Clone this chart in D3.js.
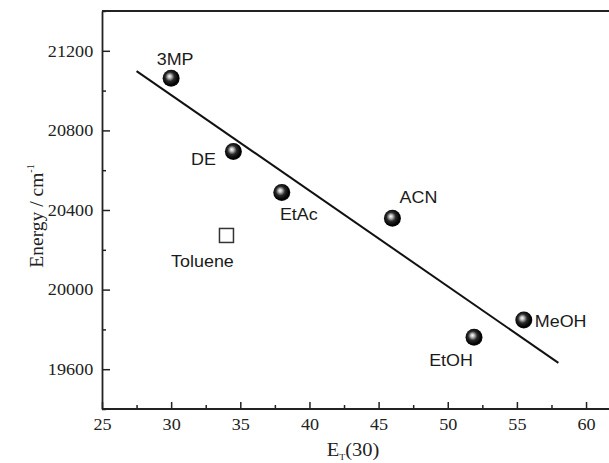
<!DOCTYPE html>
<html>
<head>
<meta charset="utf-8">
<script src="https://cdn.jsdelivr.net/npm/d3@7"></script>
<style>
  html, body { margin: 0; padding: 0; background: #fff; }
  svg { display: block; }
</style>
</head>
<body>
<svg id="chart" width="609" height="463"></svg>
<script>
// Solvent polarity data: E_T(30) vs. emission energy
const solvents = ["3MP", "DE", "EtAc", "ACN", "EtOH", "MeOH"];
const etValues = [30.0, 34.5, 38.0, 46.0, 51.9, 55.5];
const energyValues = [21062, 20694, 20488, 20358, 19760, 19847];

// Outlier shown with an open square
const outlierName = ["Toluene"];
const outlierEt = [34.0];
const outlierEnergy = [20272];

// Linear fit endpoints
const fitEt = [27.5, 58.0];
const fitEnergy = [21098, 19632];

// Axis ticks
const xMajorTicks = [25, 30, 35, 40, 45, 50, 55, 60];
const xMinorTicks = [27.5, 32.5, 37.5, 42.5, 47.5, 52.5, 57.5];
const yMajorTicks = [19600, 20000, 20400, 20800, 21200];
const yMinorTicks = [19400, 19800, 20200, 20600, 21000, 21400];

const svg = d3.select("#chart");
const plotLeft = 102, plotTop = 11, plotBottom = 409;

const x = d3.scaleLinear().domain([25, 62]).range([plotLeft, plotLeft + 37 * 13.83]);
const y = d3.scaleLinear().domain([19400, 21400]).range([plotBottom, plotTop]);

const axisColor = "#222";
const serif = "'Liberation Serif', 'Times New Roman', serif";
const sans = "'Liberation Sans', Arial, sans-serif";

// Sphere gradient for markers
const defs = svg.append("defs");
const grad = defs.append("radialGradient")
  .attr("id", "sphere")
  .attr("cx", "45%").attr("cy", "45%").attr("r", "60%")
  .attr("fx", "40%").attr("fy", "38%");
grad.append("stop").attr("offset", "0%").attr("stop-color", "#ffffff");
grad.append("stop").attr("offset", "18%").attr("stop-color", "#bdbdbd");
grad.append("stop").attr("offset", "45%").attr("stop-color", "#2a2a2a");
grad.append("stop").attr("offset", "80%").attr("stop-color", "#000000");
grad.append("stop").attr("offset", "100%").attr("stop-color", "#1a1a1a");

// Frame: top edge line
svg.append("line")
  .attr("x1", plotLeft).attr("x2", 620)
  .attr("y1", plotTop).attr("y2", plotTop)
  .attr("stroke", axisColor).attr("stroke-width", 1.8);

// Bottom axis
const xAxis = svg.append("g")
  .attr("transform", `translate(0,${plotBottom})`)
  .call(d3.axisBottom(x).tickValues(xMajorTicks).tickSizeInner(-7).tickSizeOuter(0).tickPadding(9).tickFormat(d3.format("d")));
xAxis.select(".domain").attr("stroke", axisColor).attr("stroke-width", 1.8).attr("d", `M${plotLeft},0H620`);
xAxis.selectAll(".tick line").attr("stroke", axisColor).attr("stroke-width", 1.5);
xAxis.selectAll("text")
  .attr("font-family", serif).attr("font-size", 16.5).attr("fill", "#222")
  .attr("transform", "scale(1.1,1)");

svg.append("g")
  .attr("transform", `translate(0,${plotBottom})`)
  .call(d3.axisBottom(x).tickValues(xMinorTicks).tickSizeInner(-4).tickSizeOuter(0).tickFormat(""))
  .call(g => g.select(".domain").remove())
  .selectAll(".tick line").attr("stroke", axisColor).attr("stroke-width", 1.5);

// Left axis
const yAxis = svg.append("g")
  .attr("transform", `translate(${plotLeft},0)`)
  .call(d3.axisLeft(y).tickValues(yMajorTicks).tickSizeInner(-8).tickSizeOuter(0).tickPadding(8).tickFormat(d3.format("d")));
yAxis.select(".domain").attr("stroke", axisColor).attr("stroke-width", 1.8);
yAxis.selectAll(".tick line").attr("stroke", axisColor).attr("stroke-width", 1.5);
yAxis.selectAll("text")
  .attr("font-family", serif).attr("font-size", 16.5).attr("fill", "#222")
  .attr("transform", "scale(1.1,1)");

svg.append("g")
  .attr("transform", `translate(${plotLeft},0)`)
  .call(d3.axisLeft(y).tickValues(yMinorTicks).tickSizeInner(-4).tickSizeOuter(0).tickFormat(""))
  .call(g => g.select(".domain").remove())
  .selectAll(".tick line").attr("stroke", axisColor).attr("stroke-width", 1.5);

// Axis titles
const xTitle = svg.append("text")
  .attr("transform", `translate(353,456) scale(1.08,1)`)
  .attr("text-anchor", "middle")
  .attr("font-family", serif).attr("font-size", 19).attr("fill", "#222");
xTitle.append("tspan").text("E");
xTitle.append("tspan").attr("font-size", 9).attr("dy", 4).text("T");
xTitle.append("tspan").attr("dy", -4).text("(30)");

const yTitle = svg.append("text")
  .attr("transform", `translate(43,216) rotate(-90)`)
  .attr("text-anchor", "middle")
  .attr("font-family", serif).attr("font-size", 19.5).attr("fill", "#222");
yTitle.append("tspan").text("Energy / cm");
yTitle.append("tspan").attr("font-size", 10).attr("dy", -9).text("-1");

// Linear fit
svg.append("line")
  .attr("x1", x(fitEt[0])).attr("y1", y(fitEnergy[0]))
  .attr("x2", x(fitEt[1])).attr("y2", y(fitEnergy[1]))
  .attr("stroke", "#111").attr("stroke-width", 2);

// Sphere markers
svg.append("g").selectAll("circle")
  .data(solvents.map((s, i) => ({ s, et: etValues[i], e: energyValues[i] })))
  .join("circle")
  .attr("cx", d => x(d.et)).attr("cy", d => y(d.e))
  .attr("r", 8.5)
  .attr("fill", "url(#sphere)");

// Open square marker
svg.append("g").selectAll("rect")
  .data(outlierName.map((s, i) => ({ s, et: outlierEt[i], e: outlierEnergy[i] })))
  .join("rect")
  .attr("x", d => x(d.et) - 7).attr("y", d => y(d.e) - 7)
  .attr("width", 14).attr("height", 14)
  .attr("fill", "none").attr("stroke", "#333").attr("stroke-width", 1.5);

// Point labels: offset from each marker (dx, dy to baseline, anchor)
const labelNames = ["3MP", "DE", "EtAc", "ACN", "EtOH", "MeOH", "Toluene"];
const labelEt = etValues.concat(outlierEt);
const labelEnergy = energyValues.concat(outlierEnergy);
const labelOffsets = [
  [4, -13, "middle"], [-30, 14, "middle"], [17, 28, "middle"], [26, -15, "middle"],
  [-23, 29, "middle"], [11, 7, "start"], [-24, 32, "middle"]
];
labelNames.forEach((name, i) => {
  const [dx, dy, anchor] = labelOffsets[i];
  svg.append("text")
    .attr("transform", `translate(${x(labelEt[i]) + dx},${y(labelEnergy[i]) + dy}) scale(1.12,1)`)
    .attr("text-anchor", anchor)
    .attr("font-family", sans).attr("font-size", 16).attr("fill", "#1a1a1a")
    .text(name);
});
</script>
</body>
</html>
